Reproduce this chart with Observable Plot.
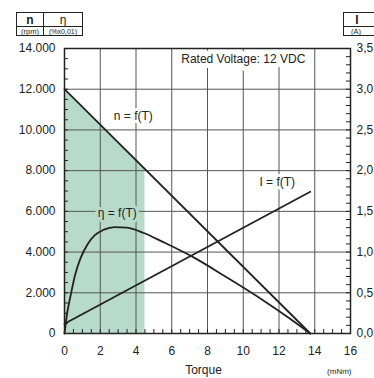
<!DOCTYPE html>
<html><head><meta charset="utf-8">
<script src="https://cdn.jsdelivr.net/npm/d3@7"></script>
<script src="https://cdn.jsdelivr.net/npm/@observablehq/plot@0.6"></script>
<style>
html,body{margin:0;padding:0;overflow:hidden;background:#fff;}
#chart{width:374px;height:378px;}
</style></head><body><div id="chart"></div>
<script>
// ---- data ----
const torqueTicks = [0, 2, 4, 6, 8, 10, 12, 14, 16];
const speedTicks = [0, 2000, 4000, 6000, 8000, 10000, 12000, 14000];
const currentTicks = [0, 0.5, 1, 1.5, 2, 2.5, 3, 3.5];

const speedT = [0, 13.75];
const speedN = [12000, 0];

const currentT = [0, 13.75];
const currentA = [0.12, 1.74];

const effT   = [0, 0.15, 0.35, 0.6, 0.9, 1.3, 1.7, 2.2, 2.8, 3.5, 4.4, 5.5, 7.2, 9, 11, 12.5, 13.75];
const effPct = [0, 10, 19, 29, 37, 44, 48.3, 51, 52.3, 52, 49.5, 45, 37.5, 28, 17, 8, 0];

const shadeT = [0, 4.5];
const shadeN = [12000, 8070];

const curveLabels = ["n = f(T)", "I = f(T)", "η = f(T)"];
const labelT = [3.85, 11.9, 2.95];
const labelV = [10700, 7450, 5900];

const ratedText = "Rated Voltage: 12 VDC";

// ---- derived tables ----
const ampToAxis = 14000 / 3.5;   // right axis (A) -> left axis units
const pctToAxis = 100;           // η in % -> left axis (% x 0,01)
const speed = speedT.map((t, i) => ({T: t, v: speedN[i]}));
const current = currentT.map((t, i) => ({T: t, v: currentA[i] * ampToAxis}));
const eff = effT.map((t, i) => ({T: t, v: effPct[i] * pctToAxis}));
const shade = shadeT.map((t, i) => ({T: t, v: shadeN[i]}));
const labs = curveLabels.map((s, i) => ({s, T: labelT[i], v: labelV[i]}));

const minorX = d3.range(0.5, 16, 0.5);
const minorYL = d3.range(500, 14000, 500);
const minorYR = d3.range(0.1, 3.45, 0.1).map(a => a * ampToAxis);
const gridX = torqueTicks.slice(1, -1);
const gridY = speedTicks.slice(1, -1);

const ink = "#222";
const green = "#b7dacb";
const grid = "#555";

const svg = Plot.plot({
  width: 374, height: 378,
  marginLeft: 64, marginRight: 24, marginTop: 48, marginBottom: 45,
  style: {fontFamily: "'Liberation Sans', Arial, sans-serif", fontSize: "12px", color: ink, background: "#fff", overflow: "hidden"},
  x: {domain: [0, 16], axis: null},
  y: {domain: [0, 14000], axis: null},
  marks: [
    Plot.areaY(shade, {x: "T", y: "v", fill: green}),
    Plot.ruleX(gridX, {stroke: grid, strokeWidth: 1}),
    Plot.ruleY(gridY, {stroke: grid, strokeWidth: 1}),
    Plot.ruleX(minorX, {x: d => d, y1: 0, y2: 0, insetTop: -4, stroke: ink}),
    Plot.ruleY(minorYL, {y: d => d, x1: 0, x2: 0, insetRight: -4, stroke: ink}),
    Plot.ruleY(minorYR, {y: d => d, x1: 16, x2: 16, insetLeft: -4, stroke: ink}),
    Plot.text([ratedText], {x: 10, y: 13500, text: d => d, fill: ink, stroke: "#fff", strokeWidth: 10, fontSize: 12}),
    Plot.text([labs[0], labs[1]], {x: "T", y: "v", text: "s", fill: ink, stroke: "#fff", strokeWidth: 6, fontSize: 12}),
    Plot.text([labs[2]], {x: "T", y: "v", text: "s", fill: ink, stroke: green, strokeWidth: 6, fontSize: 12}),
    Plot.line(speed, {x: "T", y: "v", stroke: ink, strokeWidth: 1.8}),
    Plot.line(current, {x: "T", y: "v", stroke: ink, strokeWidth: 1.8}),
    Plot.line(eff, {x: "T", y: "v", stroke: ink, strokeWidth: 1.8, curve: "monotone-x"}),
    Plot.frame({stroke: ink, strokeWidth: 1.5}),
    Plot.axisY(speedTicks, {anchor: "left", label: null, tickSize: 0, tickPadding: 9, fontSize: 12,
      tickFormat: d => d3.format(",")(d).replace(/,/g, ".")}),
    Plot.axisY(currentTicks.map(a => a * ampToAxis), {anchor: "right", label: null, tickSize: 0, tickPadding: 6, fontSize: 12,
      tickFormat: d => (d / ampToAxis).toFixed(1).replace(".", ",")}),
    Plot.axisX(torqueTicks, {anchor: "bottom", label: null, tickSize: 0, tickPadding: 13, fontSize: 12}),
    Plot.text(["Torque"], {frameAnchor: "bottom", dy: 40, dx: -4, text: d => d, fontSize: 12, fill: ink}),
    Plot.text(["(mNm)"], {frameAnchor: "bottom-right", dy: 40, dx: 1, textAnchor: "end", text: d => d, fontSize: 8, fill: ink})
  ]
});
document.getElementById("chart").appendChild(svg);

// header unit boxes
const s = d3.select(svg);
const hdr = s.append("g").attr("fill", "none").attr("stroke", ink).attr("stroke-width", 1);
hdr.append("rect").attr("x", 16.5).attr("y", 12.5).attr("width", 66).attr("height", 23);
hdr.append("line").attr("x1", 16.5).attr("x2", 82.5).attr("y1", 26.5).attr("y2", 26.5);
hdr.append("line").attr("x1", 43.5).attr("x2", 43.5).attr("y1", 12.5).attr("y2", 35.5);
hdr.append("rect").attr("x", 343.5).attr("y", 12.5).attr("width", 40).attr("height", 23);
hdr.append("line").attr("x1", 343.5).attr("x2", 374).attr("y1", 26.5).attr("y2", 26.5);
const ht = s.append("g").attr("fill", ink).attr("text-anchor", "middle")
  .attr("font-family", "'Liberation Sans', Arial, sans-serif");
ht.append("text").attr("x", 30).attr("y", 24).attr("font-size", 12).attr("font-weight", "bold").text("n");
ht.append("text").attr("x", 63).attr("y", 24).attr("font-size", 12).text("η");
ht.append("text").attr("x", 30).attr("y", 33.5).attr("font-size", 7.5).text("(rpm)");
ht.append("text").attr("x", 63).attr("y", 33.5).attr("font-size", 7).text("(%x0,01)");
ht.append("text").attr("x", 357).attr("y", 24).attr("font-size", 12).attr("font-weight", "bold").text("I");
ht.append("text").attr("x", 356).attr("y", 33.5).attr("font-size", 7.5).text("(A)");
</script></body></html>
